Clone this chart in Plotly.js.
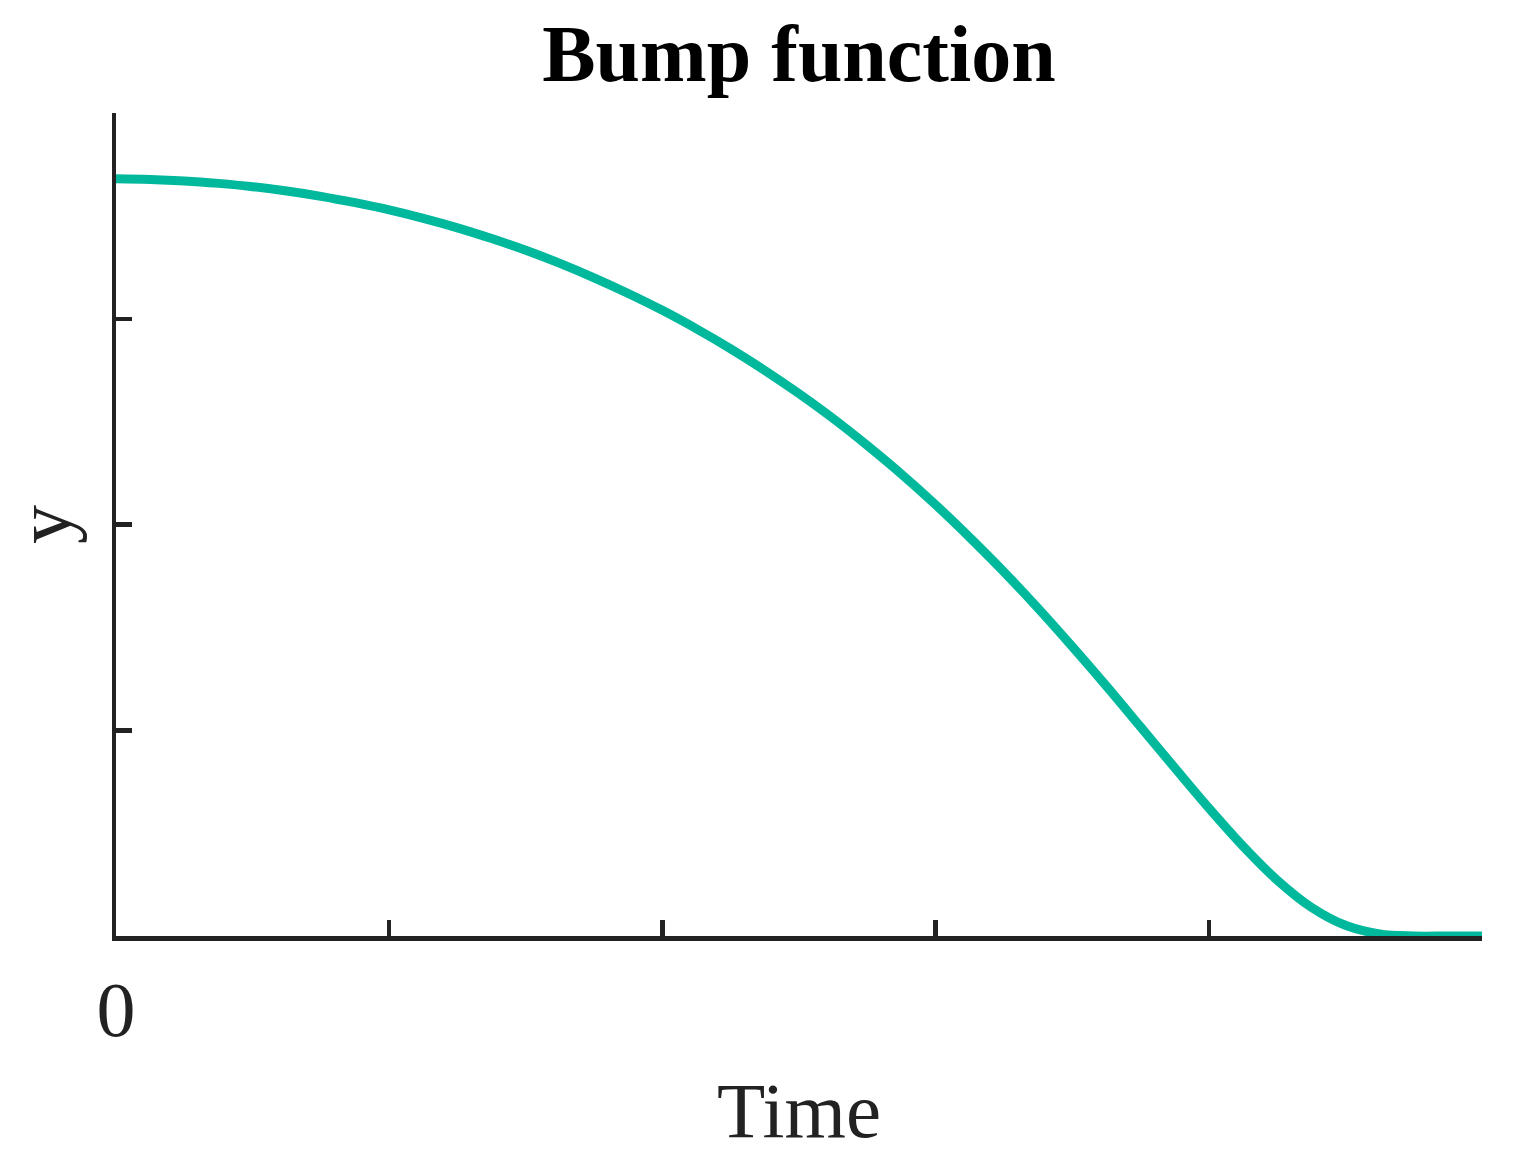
<!DOCTYPE html>
<html>
<head>
<meta charset="utf-8">
<script src="https://cdn.plot.ly/plotly-3.0.1.min.js"></script>
<style>
  html, body { margin: 0; padding: 0; background: #fff; }
  #chart { width: 1522px; height: 1165px; }
</style>
</head>
<body>
<div id="chart"></div>
<script>
// values
const timeVals = [0, 0.025, 0.05, 0.075, 0.1, 0.125, 0.15, 0.175, 0.2, 0.225, 0.25,
  0.275, 0.3, 0.325, 0.35, 0.375, 0.4, 0.425, 0.45, 0.475, 0.5,
  0.525, 0.55, 0.575, 0.6, 0.625, 0.65, 0.675, 0.7, 0.725, 0.75,
  0.775, 0.8, 0.825, 0.85, 0.875, 0.9, 0.925, 0.95, 0.975, 1];
const yVals = [0.368, 0.3677, 0.367, 0.3658, 0.3642, 0.3621, 0.3595, 0.3564, 0.3529, 0.3488, 0.3442,
  0.339, 0.3333, 0.3269, 0.3199, 0.3123, 0.3041, 0.2951, 0.2854, 0.2749, 0.2636,
  0.2515, 0.2384, 0.2245, 0.2096, 0.1937, 0.177, 0.1593, 0.1407, 0.1215, 0.1017,
  0.0818, 0.0622, 0.0437, 0.0272, 0.014, 0.0052, 0.001, 0, 0, 0];

const xTicks = [0, 0.2, 0.4, 0.6, 0.8, 1];
const xTickText = ['0', '', '', '', '', ''];
const yTicks = [0, 0.1, 0.2, 0.3, 0.4];

const axisColor = '#222222';
const serif = '"Liberation Serif", "Times New Roman", serif';

const trace = {
  x: timeVals,
  y: yVals,
  type: 'scatter',
  mode: 'lines',
  line: { color: '#00b89c', width: 9, shape: 'spline', smoothing: 1 },
  hoverinfo: 'skip'
};

const layout = {
  width: 1522,
  height: 1165,
  paper_bgcolor: '#ffffff',
  plot_bgcolor: '#ffffff',
  showlegend: false,
  margin: { l: 116, r: 40, t: 113, b: 229 },
  title: {
    text: '<b>Bump function</b>',
    font: { family: serif, size: 80, color: '#000000' },
    x: 0.5, xref: 'paper',
    y: 1 - 53 / 1165, yref: 'container', yanchor: 'middle'
  },
  xaxis: {
    range: [0, 1],
    tickvals: xTicks,
    ticktext: xTickText,
    ticks: 'inside',
    ticklen: 16,
    tickwidth: 4.5,
    tickcolor: axisColor,
    showline: true,
    linewidth: 4.5,
    linecolor: axisColor,
    showgrid: false,
    zeroline: false,
    ticklabelstandoff: 2,
    tickfont: { family: serif, size: 78, color: axisColor },
    title: { text: 'Time', font: { family: serif, size: 79, color: axisColor }, standoff: 31 }
  },
  yaxis: {
    range: [0, 0.4],
    tickvals: yTicks,
    ticks: 'inside',
    ticklen: 16,
    tickwidth: 4.5,
    tickcolor: axisColor,
    showline: true,
    linewidth: 4.5,
    linecolor: axisColor,
    showgrid: false,
    zeroline: false,
    showticklabels: false,
    title: { text: 'y', font: { family: serif, size: 78, color: axisColor }, standoff: 30 }
  }
};

Plotly.newPlot('chart', [trace], layout, { staticPlot: true, displayModeBar: false });
</script>
</body>
</html>
